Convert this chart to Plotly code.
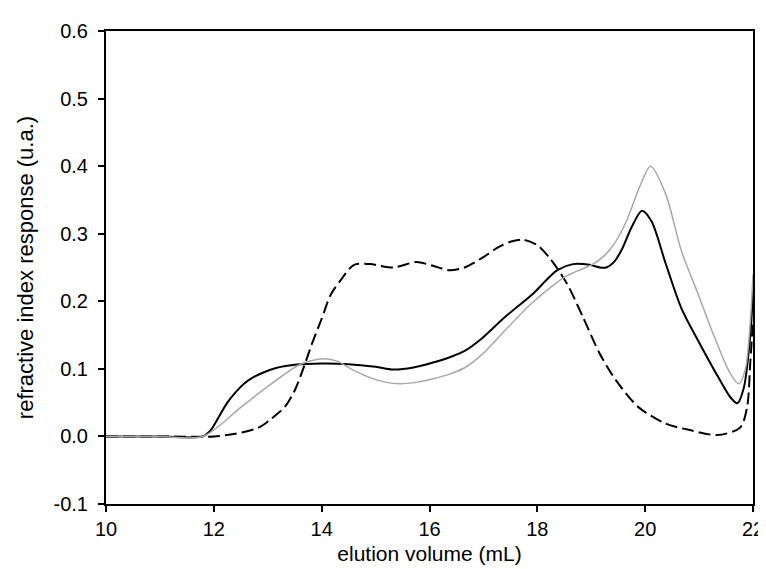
import plotly.graph_objects as go

# black solid curve
solid_x = [10.0, 11.0, 11.8, 11.95, 12.1, 12.25, 12.41, 12.56, 12.72, 12.93, 13.14, 13.5, 14.0, 14.5, 15.0, 15.33, 15.7, 16.05, 16.4, 16.66, 16.97, 17.39, 17.93, 18.2, 18.37, 18.66, 18.97, 19.16, 19.28, 19.42, 19.57, 19.75, 19.94, 20.12, 20.38, 20.67, 20.98, 21.29, 21.58, 21.71, 21.83, 21.95, 22.0]
solid_y = [0.0, 0.0, 0.0, 0.010, 0.030, 0.050, 0.066, 0.078, 0.087, 0.095, 0.101, 0.106, 0.108, 0.107, 0.103, 0.099, 0.102, 0.109, 0.118, 0.127, 0.145, 0.176, 0.212, 0.234, 0.246, 0.255, 0.254, 0.250, 0.250, 0.258, 0.277, 0.310, 0.334, 0.318, 0.256, 0.190, 0.142, 0.097, 0.058, 0.049, 0.072, 0.15, 0.215]

# grey curve
grey_x = [10.0, 11.0, 11.8, 12.5, 13.0, 13.56, 13.8, 14.05, 14.3, 14.54, 14.9, 15.2, 15.45, 15.75, 16.05, 16.4, 16.66, 16.97, 17.39, 17.88, 18.3, 18.55, 19.03, 19.25, 19.45, 19.65, 19.9, 20.1, 20.38, 20.67, 20.98, 21.29, 21.58, 21.74, 21.86, 21.95, 22.0]
grey_y = [0.0, 0.0, 0.0, 0.043, 0.074, 0.105, 0.112, 0.115, 0.111, 0.100, 0.087, 0.080, 0.078, 0.080, 0.085, 0.093, 0.102, 0.121, 0.156, 0.196, 0.224, 0.238, 0.255, 0.268, 0.288, 0.318, 0.370, 0.400, 0.359, 0.275, 0.211, 0.146, 0.093, 0.078, 0.100, 0.17, 0.24]

# dashed curve
dash_x = [10.0, 11.0, 12.0, 12.4, 12.83, 13.08, 13.32, 13.5, 13.68, 13.81, 13.99, 14.17, 14.36, 14.6, 14.9, 15.33, 15.75, 16.05, 16.36, 16.65, 16.97, 17.28, 17.5, 17.75, 18.0, 18.24, 18.55, 18.85, 19.16, 19.46, 19.88, 20.38, 20.85, 21.34, 21.76, 21.89, 21.95, 22.0]
dash_y = [0.0, 0.0, 0.0, 0.004, 0.013, 0.027, 0.044, 0.068, 0.105, 0.135, 0.172, 0.210, 0.232, 0.254, 0.255, 0.250, 0.258, 0.253, 0.246, 0.250, 0.264, 0.280, 0.288, 0.291, 0.283, 0.263, 0.226, 0.176, 0.122, 0.083, 0.043, 0.019, 0.009, 0.002, 0.013, 0.043, 0.11, 0.17]

x_ticks = [10, 12, 14, 16, 18, 20, 22]
y_ticks = [-0.1, 0.0, 0.1, 0.2, 0.3, 0.4, 0.5, 0.6]
y_ticktext = ["-0.1", "0.0", "0.1", "0.2", "0.3", "0.4", "0.5", "0.6"]

fig = go.Figure()
fig.add_trace(go.Scatter(x=dash_x, y=dash_y, mode="lines",
                         line=dict(color="black", width=2, dash="12px,5px", shape="spline", smoothing=0.8)))
fig.add_trace(go.Scatter(x=solid_x, y=solid_y, mode="lines",
                         line=dict(color="black", width=2, shape="spline", smoothing=0.8)))
fig.add_trace(go.Scatter(x=grey_x, y=grey_y, mode="lines",
                         line=dict(color="#a8a8a8", width=1.5, shape="spline", smoothing=0.8)))

font = "Liberation Sans, Arial, sans-serif"
fig.update_layout(
    width=766, height=569,
    margin=dict(l=98, r=10, t=23, b=73),
    paper_bgcolor="white", plot_bgcolor="white",
    showlegend=False,
    font=dict(family=font, size=20, color="black"),
    xaxis=dict(range=[10, 22], tickvals=x_ticks, showgrid=False, zeroline=False,
               showline=True, linecolor="black", linewidth=2, mirror=True,
               ticks="outside", ticklen=6, tickwidth=1.5, tickcolor="black",
               title=dict(text="elution volume (mL)", font=dict(size=21), standoff=7)),
    yaxis=dict(range=[-0.1, 0.6], tickvals=y_ticks, ticktext=y_ticktext, showgrid=False, zeroline=False,
               showline=True, linecolor="black", linewidth=2, mirror=True,
               ticks="outside", ticklen=6, tickwidth=1.5, tickcolor="black", ticklabelstandoff=6,
               title=dict(text="refractive index response (u.a.)", font=dict(size=22), standoff=14)),
)

fig.write_html("out.html")
